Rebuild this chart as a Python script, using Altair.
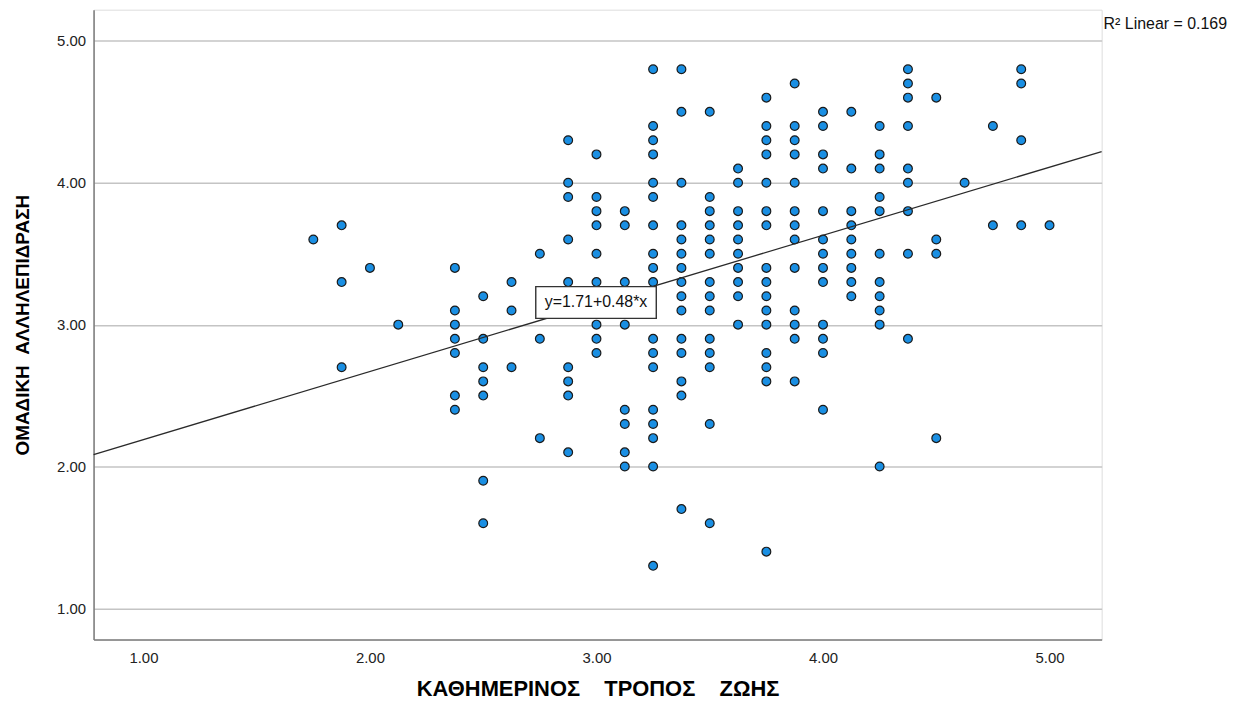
import altair as alt
import pandas as pd

# ---- data ----
x_levels = [1.75, 1.875, 2.0, 2.125, 2.375, 2.5, 2.625, 2.75, 2.875, 3.0,
            3.125, 3.25, 3.375, 3.5, 3.625, 3.75, 3.875, 4.0, 4.125, 4.25,
            4.375, 4.5, 4.625, 4.75, 4.875, 5.0]

y_1_750 = [3.6]
y_1_875 = [3.7, 3.3, 2.7]
y_2_000 = [3.4]
y_2_125 = [3.0]
y_2_375 = [3.4, 3.1, 3.0, 2.9, 2.8, 2.5, 2.4]
y_2_500 = [3.2, 2.9, 2.7, 2.6, 2.5, 1.9, 1.6]
y_2_625 = [3.3, 3.1, 2.7]
y_2_750 = [3.5, 2.9, 2.2]
y_2_875 = [4.3, 4.0, 3.9, 3.6, 3.3, 2.7, 2.6, 2.5, 2.1]
y_3_000 = [4.2, 3.9, 3.8, 3.7, 3.5, 3.3, 3.0, 2.9, 2.8]
y_3_125 = [3.8, 3.7, 3.3, 3.0, 2.4, 2.3, 2.1, 2.0]
y_3_250 = [4.8, 4.4, 4.3, 4.2, 4.0, 3.9, 3.7, 3.5, 3.4, 3.3, 2.9, 2.8, 2.7,
           2.4, 2.3, 2.2, 2.0, 1.3]
y_3_375 = [4.8, 4.5, 4.0, 3.7, 3.6, 3.5, 3.4, 3.3, 3.2, 3.1, 2.9, 2.8, 2.6,
           2.5, 1.7]
y_3_500 = [4.5, 3.9, 3.8, 3.7, 3.6, 3.5, 3.3, 3.2, 3.1, 2.9, 2.8, 2.7, 2.3, 1.6]
y_3_625 = [4.1, 4.0, 3.8, 3.7, 3.6, 3.5, 3.4, 3.3, 3.2, 3.0]
y_3_750 = [4.6, 4.4, 4.3, 4.2, 4.0, 3.8, 3.7, 3.4, 3.3, 3.2, 3.1, 3.0, 2.8,
           2.7, 2.6, 1.4]
y_3_875 = [4.7, 4.4, 4.3, 4.2, 4.0, 3.8, 3.7, 3.6, 3.4, 3.1, 3.0, 2.9, 2.6]
y_4_000 = [4.5, 4.4, 4.2, 4.1, 3.8, 3.6, 3.5, 3.4, 3.3, 3.0, 2.9, 2.8, 2.4]
y_4_125 = [4.5, 4.1, 3.8, 3.7, 3.6, 3.5, 3.4, 3.3, 3.2]
y_4_250 = [4.4, 4.2, 4.1, 3.9, 3.8, 3.5, 3.3, 3.2, 3.1, 3.0, 2.0]
y_4_375 = [4.8, 4.7, 4.6, 4.4, 4.1, 4.0, 3.8, 3.5, 2.9]
y_4_500 = [4.6, 3.6, 3.5, 2.2]
y_4_625 = [4.0]
y_4_750 = [4.4, 3.7]
y_4_875 = [4.8, 4.7, 4.3, 3.7]
y_5_000 = [3.7]

y_columns = [y_1_750, y_1_875, y_2_000, y_2_125, y_2_375, y_2_500, y_2_625,
             y_2_750, y_2_875, y_3_000, y_3_125, y_3_250, y_3_375, y_3_500,
             y_3_625, y_3_750, y_3_875, y_4_000, y_4_125, y_4_250, y_4_375,
             y_4_500, y_4_625, y_4_750, y_4_875, y_5_000]

tick_values = [1, 2, 3, 4, 5]
x_domain = [0.78, 5.23]
y_domain = [0.78, 5.22]

fit_intercept = 1.71
fit_slope = 0.48
fit_label = "y=1.71+0.48*x"
r2_label = "R\u00b2 Linear = 0.169"
label_box_x = [2.732, 3.264]
label_box_y = [3.044, 3.268]

x_title = "ΚΑΘΗΜΕΡΙΝΟΣ\u00a0\u00a0\u00a0\u00a0ΤΡΟΠΟΣ\u00a0\u00a0\u00a0\u00a0ΖΩΗΣ"
y_title = "ΟΜΑΔΙΚΗ\u00a0\u00a0ΑΛΛΗΛΕΠΙΔΡΑΣΗ"

# ---- tables ----
rows = []
for xv, ys in zip(x_levels, y_columns):
    for yv in ys:
        rows.append({"x": xv, "y": yv})
points_df = pd.DataFrame(rows)
line_df = pd.DataFrame({"x": x_domain})
box_df = pd.DataFrame({"x": [label_box_x[0]], "x2": [label_box_x[1]],
                       "y": [label_box_y[0]], "y2": [label_box_y[1]],
                       "tx": [(label_box_x[0] + label_box_x[1]) / 2],
                       "ty": [(label_box_y[0] + label_box_y[1]) / 2],
                       "label": [fit_label]})

FONT = "Liberation Sans"
W, H = 1013, 633

xscale = alt.Scale(domain=x_domain, nice=False, zero=False)
yscale = alt.Scale(domain=y_domain, nice=False, zero=False)

xaxis = alt.Axis(values=tick_values, format=".2f", grid=False, ticks=False,
                 domainColor="#7a7a7a", domainWidth=1.5,
                 labelFont=FONT, labelFontSize=15, labelColor="#222222",
                 labelPadding=11, title=x_title, titleFont=FONT,
                 titleFontSize=22, titleFontWeight="bold", titleColor="#000000",
                 titleY=49, titleBaseline="middle")
yaxis = alt.Axis(values=tick_values, format=".2f", grid=True,
                 gridColor="#c4c4c4", gridWidth=1.5, ticks=False,
                 domainColor="#7a7a7a", domainWidth=1.5,
                 labelFont=FONT, labelFontSize=15, labelColor="#222222",
                 labelPadding=8, title=y_title, titleFont=FONT,
                 titleFontSize=19, titleFontWeight="bold", titleColor="#000000",
                 titleX=-71, titleY=H / 2, titleAngle=-90,
                 titleBaseline="middle", titleAlign="center")

points = alt.Chart(points_df).mark_circle(
    size=78, color="#1a8fe3", opacity=1, stroke="#1a1a1a", strokeWidth=1.2
).encode(
    x=alt.X("x:Q", scale=xscale, axis=xaxis),
    y=alt.Y("y:Q", scale=yscale, axis=yaxis),
)

fit_line = alt.Chart(line_df).transform_calculate(
    y=f"{fit_intercept} + {fit_slope} * datum.x"
).mark_line(color="#2a2a2a", strokeWidth=1.3).encode(
    x=alt.X("x:Q", scale=xscale),
    y=alt.Y("y:Q", scale=yscale),
)

box = alt.Chart(box_df).mark_rect(
    fill="white", stroke="#333333", strokeWidth=1.4
).encode(
    x=alt.X("x:Q", scale=xscale), x2="x2:Q",
    y=alt.Y("y:Q", scale=yscale), y2="y2:Q",
)

box_text = alt.Chart(box_df).mark_text(
    font=FONT, fontSize=16, color="#111111", align="center", baseline="middle"
).encode(
    x=alt.X("tx:Q", scale=xscale),
    y=alt.Y("ty:Q", scale=yscale),
    text="label:N",
)

r2_text = alt.Chart(pd.DataFrame({"t": [r2_label]})).mark_text(
    font=FONT, fontSize=16, color="#111111", align="left", baseline="middle"
).encode(
    x=alt.value(W + 2), y=alt.value(14), text="t:N"
)

chart = alt.layer(points, fit_line, box, box_text, r2_text).properties(
    width=W, height=H,
    autosize=alt.AutoSizeParams(type="none"),
    padding={"left": 86, "top": 0, "right": 130, "bottom": 60},
).configure_view(stroke=None).configure(background="white")

chart.save("out.html", embed_options={"renderer": "svg", "actions": False})
